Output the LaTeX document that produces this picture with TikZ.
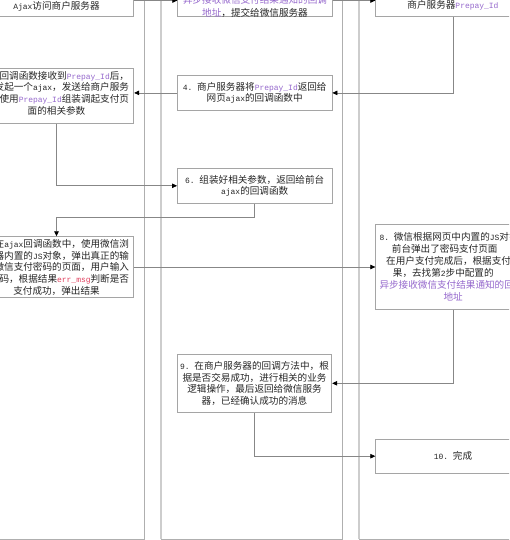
\documentclass[tikz,border=0pt]{standalone}
\usepackage{fontspec}
\setmainfont{Noto Sans CJK SC}
\newfontfamily\monof[Scale=0.83]{Liberation Mono}
\usetikzlibrary{arrows.meta}
\definecolor{purp}{RGB}{150,105,205}
\definecolor{errred}{RGB}{225,65,95}
\definecolor{boxgray}{RGB}{165,165,165}
\definecolor{linegray}{RGB}{135,135,135}
\definecolor{lanegray}{RGB}{175,175,175}
\definecolor{lanelight}{RGB}{205,205,205}
\newcommand\mn[1]{{\monof #1}}
\newcommand\pid{{\monof\color{purp}Prepay\_Id}}
\begin{document}
\begin{tikzpicture}[x=1pt,y=-1pt,
  txt/.style={font=\fontsize{9.6}{11.7}\selectfont, text=black!85, inner sep=0pt},
  box/.style={draw=boxgray, line width=0.8pt, fill=white, inner sep=0pt,
    minimum width=154.5pt, txt, align=center},
  conn/.style={draw=linegray, line width=0.7pt,
    -{Triangle[length=5pt,width=4.5pt,color=black,fill=black]}},
  lane/.style={draw=lanegray, line width=0.8pt},
  laneedge/.style={draw=lanelight, line width=1.8pt}]
\useasboundingbox (0,0) rectangle (509,540);
\clip (0,0) rectangle (509,540);
% lanes
\draw[lane] (-10,-10) rectangle (144,539);
\draw[lane] (161,-10) rectangle (342,539);
\draw[laneedge] (161,-10) -- (161,539.4);
\draw[lane] (359,-10) rectangle (560,539);
\draw[laneedge] (359,-10) -- (359,539.4);
% boxes
\node[box, minimum height=32.4pt] (b1) at (56.5,0.5) {};
\node[txt] (t1) at (56.5,6) {\mn{Ajax}访问商户服务器};
\node[box, minimum height=32.4pt] (b2) at (255,0.5) {};
\node[txt, align=center, font=\fontsize{9.6}{12.5}\selectfont] (t2) at (255,6.5)
  {\textcolor{purp}{异步接收微信支付结果通知的回调}\\\textcolor{purp}{地址}，提交给微信服务器};
\node[box, minimum height=32.4pt] (b3) at (453,0.5) {};
\node[txt] (t3) at (453,5) {商户服务器\pid};
\node[box, minimum height=34.3pt] (b4) at (254.7,92.9)
  {\mn{4.\ }商户服务器将\pid 返回给\\网页\mn{ajax}的回调函数中};
\node[box, minimum height=55pt] (b5) at (56.5,95.8) {};
\node[txt, text width=145pt, align=right] (t5) at (56.5,93)
  {回调函数接收到\pid 后，\\发起一个\mn{ajax}，发送给商户服务\\使用\pid 组装调起支付页\\\makebox[145pt][c]{面的相关参数}};
\node[box, minimum height=35pt] (b6) at (254.7,185.8)
  {\mn{6.\ }组装好相关参数，返回给前台\\\mn{ajax}的回调函数};
\node[box, minimum height=60.6pt] (b7) at (56.5,267) {};
\node[txt, text width=145pt, align=right] (t7) at (56.5,267.3)
  {在\mn{ajax}回调函数中，使用微信浏\\器内置的\mn{JS}对象，弹出真正的输\\微信支付密码的页面，用户输入\\码，根据结果{\monof\color{errred}err\_msg}判断是否\\\makebox[145pt][c]{支付成功，弹出结果}};
\node[box, minimum height=85pt] (b8) at (453,266.8) {};
\node[txt, anchor=west, align=left, font=\fontsize{9.6}{12}\selectfont] (t8) at (379.3,266.7)
  {\mn{8.\ }微信根据网页中内置的\mn{JS}对象\\
   \hspace*{12.4pt}前台弹出了密码支付页面\\
   \hspace*{6.7pt}在用户支付完成后，根据支付结\\
   \hspace*{13.4pt}果，去找第\mn{2}步中配置的\\
   \textcolor{purp}{异步接收微信支付结果通知的回调}\\
   \hspace*{64pt}\textcolor{purp}{地址}};
\node[box, minimum height=58.7pt] (b9) at (254.5,383.3)
  {\mn{9.\ }在商户服务器的回调方法中，根\\据是否交易成功，进行相关的业务\\逻辑操作，最后返回给微信服务\\器，已经确认成功的消息};
\node[box, minimum height=34.3pt] (b10) at (453,456.2) {\mn{10.\ }完成};
% connectors
\draw[conn] (b1.east) -- (b2.west);
\draw[conn] (b2.east) -- (b3.west);
\draw[conn] (b3.south) |- (b4.east);
\draw[conn] (b4.west) -- (b4.west -| b5.east);
\draw[conn] (b5.south) |- (b6.west);
\draw[conn] (b6.south) -- ++(0,13.4) -| (b7.north);
\draw[conn] (b7.east) -- (b7.east -| b8.west);
\draw[conn] (b8.south) |- (b9.east);
\draw[conn] (b9.south) |- (b10.west);
\end{tikzpicture}
\end{document}
